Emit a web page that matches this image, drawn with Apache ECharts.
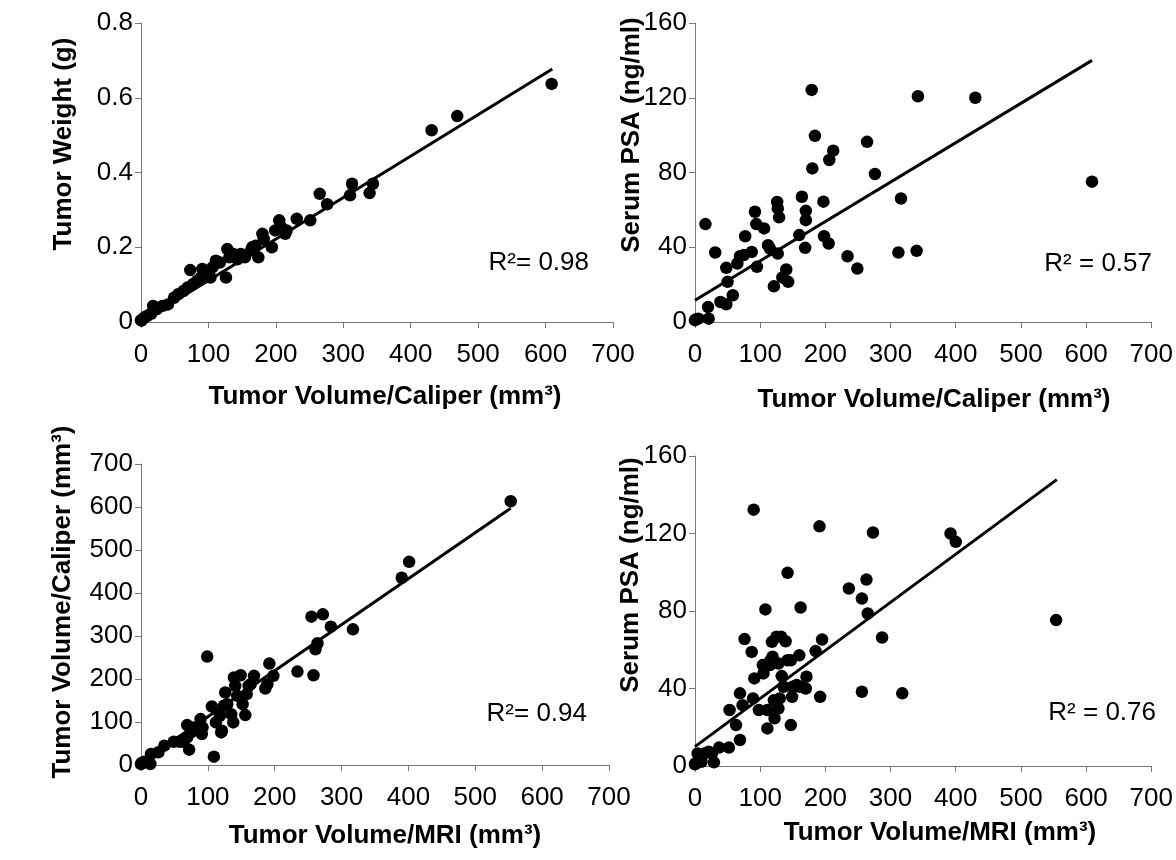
<!DOCTYPE html>
<html>
<head>
<meta charset="utf-8">
<script src="https://cdn.jsdelivr.net/npm/echarts@6/dist/echarts.min.js"></script>
<style>
html,body{margin:0;padding:0;background:#fff;}
#chart{width:1176px;height:860px;}
</style>
</head>
<body>
<div id="chart"></div>
<script>
// ---------- DATA ----------
// Panel A: Tumor Volume/Caliper (mm3) vs Tumor Weight (g)
const aCaliper = [0,1,5,9,15,18,23,32,40,49,55,63,69,73,77,83,89,91,97,103,106,111,117,126,128,131,137,143,148,154,163,165,170,174,180,182,194,199,205,208,214,216,231,251,265,276,310,313,339,344,431,469,609];
const aWeight  = [0.005,0.004,0.012,0.016,0.022,0.043,0.034,0.043,0.047,0.065,0.074,0.083,0.092,0.139,0.101,0.110,0.119,0.142,0.128,0.119,0.146,0.164,0.159,0.119,0.195,0.173,0.182,0.168,0.182,0.173,0.191,0.200,0.204,0.173,0.236,0.222,0.200,0.245,0.272,0.254,0.236,0.245,0.276,0.272,0.343,0.315,0.339,0.370,0.345,0.370,0.513,0.551,0.637];
const aTrendX = [0, 610];
const aTrendY = [0, 0.677];

// Panel B: Tumor Volume/Caliper (mm3) vs Serum PSA (ng/ml)
const bCaliper = [0,1,5,21,20,16,31,39,48,50,48,58,65,69,75,77,87,92,94,95,106,112,115,121,127,126,127,129,134,140,143,160,164,170,170,169,179,180,184,197,198,205,206,212,234,249,264,276,312,316,340,342,430,609];
const bPSA     = [1,1.3,1.8,1.8,8,52.4,37.2,10.7,9.5,21.5,29,14.3,31.3,35.2,35.8,45.9,37.5,59,52.4,29.5,50.1,41.1,39.3,19.1,36.6,64.2,60.8,56,23.8,28.1,21.5,46.5,67,59.5,54.5,39.7,124.2,82.2,99.6,64.4,45.9,42,86.7,91.7,35.2,28.6,96.4,79.2,37.2,66.1,38.1,120.8,120,75.1];
const bTrendX = [0, 609];
const bTrendY = [11.6, 140];

// Panel C: Tumor Volume/MRI (mm3) vs Tumor Volume/Caliper (mm3)
const cMRI     = [0,1,5,14,15,26,35,49,58,64,69,72,69,75,78,89,91,92,99,106,109,112,118,120,121,124,126,129,135,138,139,141,144,149,152,156,158,161,164,169,186,189,192,198,234,255,258,261,264,272,284,317,390,401,553];
const cCaliper = [2,4.6,7.7,2.3,25.5,29.4,44.9,54.1,54.1,54.1,64.2,35.6,92.8,75.8,87.4,106.7,71.9,87.4,252.1,136.1,19.3,99,114.5,75.8,79.7,137.7,168.6,141.5,118.3,99,203.4,184.1,160.9,208.8,141.5,116,164.7,184.1,187.9,207.3,177.9,187.9,235.9,207.3,217.3,344.9,208.8,269.1,283.1,350.3,321.7,315.5,435.4,472.5,613.3];
const cTrendX = [0, 553];
const cTrendY = [5, 597];

// Panel D: Tumor Volume/MRI (mm3) vs Serum PSA (ng/ml)
const dMRI = [0,1,4,10,15,21,29,26,37,52,53,63,69,69,73,76,87,89,91,90,98,104,105,108,111,111,115,116,118,119,121,122,125,128,128,130,132,133,136,139,142,142,147,147,149,150,156,160,161,162,170,171,185,191,192,195,236,256,256,263,265,273,287,318,392,400,554];
const dPSA = [0.9,1.4,6.5,2.2,6.5,7.4,1.9,6.5,9.5,9.5,28.9,21.1,13.4,37.5,31.4,65.5,58.9,34.9,45.2,132.3,28.9,52.1,47.8,80.8,19.4,28.9,52.1,54.6,64.1,56.4,34,24.6,66.7,29.7,52.9,34.9,66.7,46.4,40.9,64.4,54.6,99.7,54.6,21.1,35.7,40.9,41.8,57.1,40.9,81.8,40,46.1,59.3,123.7,35.7,65.3,91.6,86.4,38.3,96.2,78.7,120.5,66.3,37.5,120,115.7,75.3];
const dTrendX = [0, 555];
const dTrendY = [10, 147.8];

// Axis ticks / labels
const volumeTicks = [0, 700, 100];      // min, max, step
const weightTicks = [0, 0.8, 0.2];
const psaTicks    = [0, 160, 40];
const caliperTicks = [0, 700, 100];

const xTitles = ['Tumor Volume/Caliper (mm³)','Tumor Volume/Caliper (mm³)','Tumor Volume/MRI (mm³)','Tumor Volume/MRI (mm³)'];
const yTitles = ['Tumor Weight (g)','Serum PSA (ng/ml)','Tumor Volume/Caliper (mm³)','Serum PSA (ng/ml)'];
const r2Labels = ['R²= 0.98','R² = 0.57','R²= 0.94','R² = 0.76'];

// ---------- BUILD ----------
const FONT = "'Liberation Sans', Arial, Helvetica, sans-serif";
const pairs = (xs, ys) => xs.map((x, i) => [x, ys[i]]);

const grids = [
  {left:141, top:23,  right:563, bottom:538},
  {left:695, top:23,  right:19,  bottom:538},
  {left:141, top:464, right:567, bottom:95},
  {left:695, top:456, right:15,  bottom:94}
];
const yTickSets = [weightTicks, psaTicks, caliperTicks, psaTicks];
const scatterSets = [pairs(aCaliper,aWeight), pairs(bCaliper,bPSA), pairs(cMRI,cCaliper), pairs(dMRI,dPSA)];
const trendSets = [pairs(aTrendX,aTrendY), pairs(bTrendX,bTrendY), pairs(cTrendX,cTrendY), pairs(dTrendX,dTrendY)];

const axisLine = {show:true, lineStyle:{color:'#7a7a7a', width:1}};
const xAxes = grids.map((g,i)=>({
  type:'value', gridIndex:i, min:volumeTicks[0], max:volumeTicks[1], interval:volumeTicks[2],
  axisLine: axisLine,
  axisTick:{show:true, length:6, lineStyle:{color:'#7a7a7a'}},
  axisLabel:{fontFamily:FONT, fontSize:26, color:'#000', margin:20},
  splitLine:{show:false}
}));
const yAxes = grids.map((g,i)=>({
  type:'value', gridIndex:i, min:yTickSets[i][0], max:yTickSets[i][1], interval:yTickSets[i][2],
  axisLine: axisLine,
  axisTick:{show:true, length:6, lineStyle:{color:'#7a7a7a'}},
  axisLabel:{fontFamily:FONT, fontSize:26, color:'#000', margin:8},
  splitLine:{show:false}
}));

const series = [];
for (let i = 0; i < 4; i++) {
  series.push({
    type:'line', xAxisIndex:i, yAxisIndex:i, data:trendSets[i],
    showSymbol:false, symbol:'none', lineStyle:{color:'#000', width:3}, silent:true, z:2
  });
  series.push({
    type:'scatter', xAxisIndex:i, yAxisIndex:i, data:scatterSets[i],
    symbolSize:12.5, itemStyle:{color:'#000', opacity:1}, clip:false, z:3
  });
}

const xTitlePos = [[385,397],[934,400],[385,836],[940,833]];
const yTitlePos = [[64,144],[632,135],[63,602],[631,575]];
const r2Pos = [[589,263],[1152,264],[587,714],[1156,713]];

const graphic = [];
for (let i = 0; i < 4; i++) {
  graphic.push({type:'text', x:xTitlePos[i][0], y:xTitlePos[i][1],
    style:{text:xTitles[i], font:"bold 26px " + FONT, fill:'#000', textAlign:'center', textVerticalAlign:'middle'}});
  graphic.push({type:'text', x:yTitlePos[i][0], y:yTitlePos[i][1], rotation:Math.PI/2,
    style:{text:yTitles[i], font:"bold 26px " + FONT, fill:'#000', textAlign:'center', textVerticalAlign:'middle'}});
  graphic.push({type:'text', x:r2Pos[i][0], y:r2Pos[i][1],
    style:{text:r2Labels[i], font:"26px " + FONT, fill:'#000', textAlign:'right', textVerticalAlign:'middle'}});
}

const chart = echarts.init(document.getElementById('chart'), null, {renderer:'canvas'});
chart.setOption({
  backgroundColor:'#ffffff',
  animation:false,
  grid: grids.map(g=>Object.assign({containLabel:false}, g)),
  xAxis: xAxes,
  yAxis: yAxes,
  series: series,
  graphic: graphic
});
</script>
</body>
</html>
